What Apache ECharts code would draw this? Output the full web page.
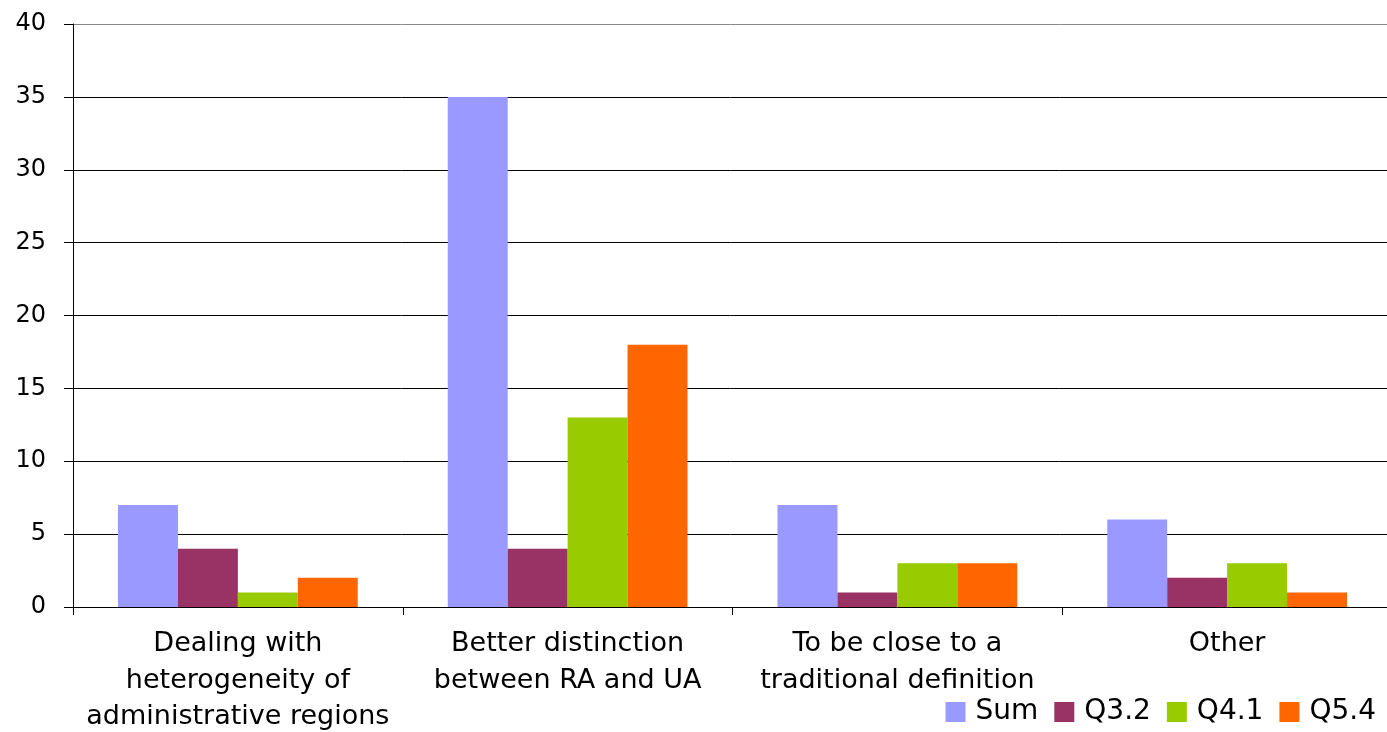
<!DOCTYPE html>
<html><head><meta charset="utf-8">
<script src="https://cdn.jsdelivr.net/npm/echarts@6/dist/echarts.min.js"></script>
<style>html,body{margin:0;padding:0;background:#fff}#c{width:1387px;height:732px}</style>
</head><body><div id="c"></div>
<script>
const categories = ['Dealing with\nheterogeneity of\nadministrative regions','Better distinction\nbetween RA and UA','To be close to a\ntraditional definition','Other'];
const seriesNames = ['Sum','Q3.2','Q4.1','Q5.4'];
const sumValues = [7,35,7,6];
const q32Values = [4,4,1,2];
const q41Values = [1,13,3,3];
const q54Values = [2,18,3,1];
const colors = ['#9999FF','#993366','#99CC00','#FF6600'];
const allValues = [sumValues,q32Values,q41Values,q54Values];
const font = 'DejaVu Sans, Verdana, sans-serif';
const chart = echarts.init(document.getElementById('c'));
chart.setOption({
  animation:false,
  color: colors,
  grid:{left:73,top:24,width:1319,bottom:125,containLabel:false,outerBoundsMode:'none'},
  legend:{
    data:seriesNames, right:6, bottom:1, itemWidth:20, itemHeight:20, itemGap:16,
    icon:'rect',
    textStyle:{fontFamily:font,fontSize:28,color:'#000',padding:[0,0,0,5]}
  },
  xAxis:{
    type:'category', data:categories,
    axisLine:{lineStyle:{color:'#000',width:1}},
    axisTick:{show:true,length:8,alignWithLabel:false,lineStyle:{color:'#000'}},
    axisLabel:{fontFamily:font,fontSize:27,color:'#000',lineHeight:36.5,margin:19,interval:0}
  },
  yAxis:{
    type:'value', min:0, max:40, interval:5,
    axisLine:{show:true,lineStyle:{color:'#000',width:1}},
    axisTick:{show:true,length:9,lineStyle:{color:'#000'}},
    axisLabel:{fontFamily:font,fontSize:24,color:'#000',margin:27},
    splitLine:{lineStyle:{color:['#000','#000','#000','#000','#000','#000','#000','#000','#888'],width:1}}
  },
  series: seriesNames.map((n,i)=>({
    name:n, type:'bar', data:allValues[i], barGap:'0%', barCategoryGap:'27.3%',
    itemStyle:{color:colors[i]}
  }))
});
</script></body></html>
